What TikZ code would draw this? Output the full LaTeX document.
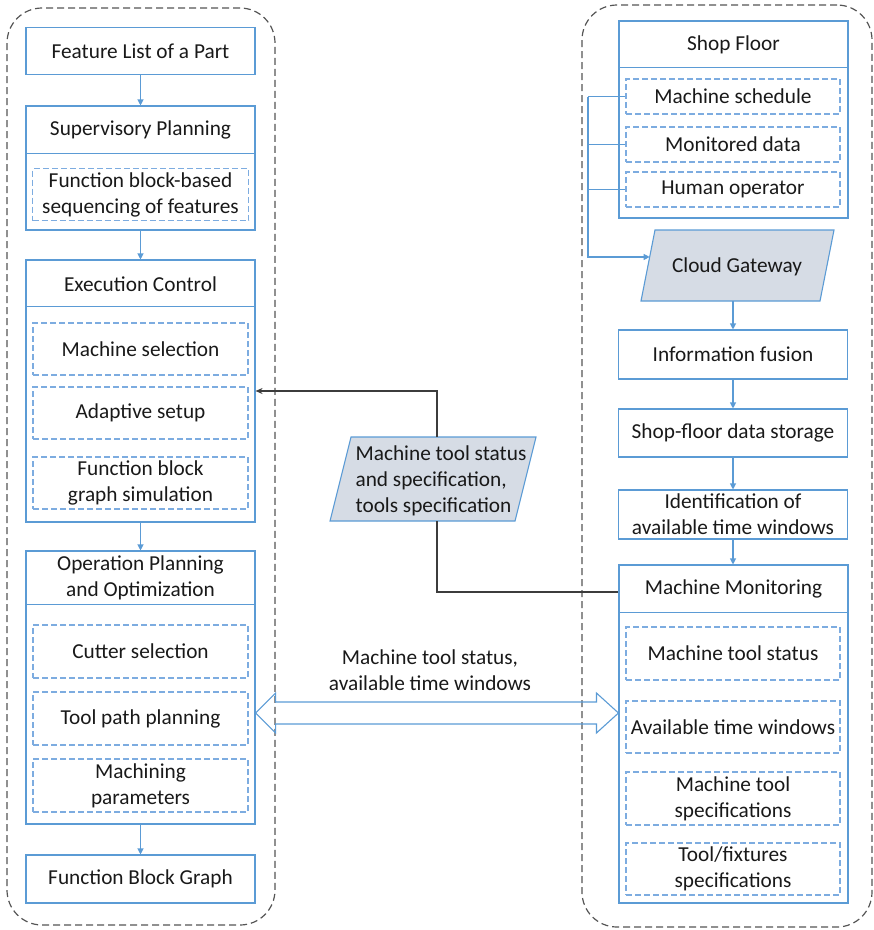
\documentclass[tikz,border=0pt]{standalone}
\usepackage{fontspec}
\setmainfont{Carlito}
\usetikzlibrary{arrows.meta,calc}

\definecolor{boxblue}{RGB}{91,155,213}
\definecolor{dashblue}{RGB}{125,172,224}
\definecolor{gatefill}{RGB}{214,220,229}
\definecolor{framegray}{RGB}{85,85,85}
\definecolor{linkgray}{RGB}{60,60,60}
\definecolor{inkc}{RGB}{25,25,25}

\tikzset{
  frame/.style={draw=framegray, line width=1.2pt, dash pattern=on 7pt off 4pt,
    rounded corners=35pt, inner sep=0pt},
  solidbox/.style={draw=boxblue, line width=1.1pt, inner sep=0pt, align=center},
  dashbox/.style={draw=dashblue, line width=1.1pt, dash pattern=on 6pt off 3pt,
    inner sep=0pt, align=center},
  txt/.style={inner sep=0pt, align=center},
  divider/.style={draw=boxblue, line width=1.1pt},
  flow/.style={draw=boxblue, line width=1.1pt, -{Triangle[length=6pt,width=6pt]}},
  bracket/.style={draw=boxblue, line width=1.1pt},
  link/.style={draw=linkgray, line width=1.1pt},
  para/.style={draw=boxblue, line width=1.1pt, fill=gatefill, line join=miter},
  hollow/.style={draw=boxblue, line width=1.1pt, line join=miter}
}

\begin{document}
\begin{tikzpicture}[x=1pt,y=-1pt,font=\fontsize{21.3}{26}\selectfont,text=inkc]
\useasboundingbox (0,0) rectangle (874,930);

% helper coordinates for fixed heights / columns
\coordinate (y592) at (0,592);
\coordinate (y713) at (0,713);
\coordinate (x437) at (437,0);
\coordinate (xbr) at (588,0);

% group frames
\node[frame, minimum width=268, minimum height=917] (leftgroup) at (141,466.5) {};
\node[frame, minimum width=290, minimum height=922] (rightgroup) at (727,466) {};

% ---------------- left column ----------------
\node[solidbox, minimum width=229, minimum height=47] (feat) at (140.5,51) {Feature List of a Part};

\node[solidbox, minimum width=229, minimum height=124] (sup) at (140.5,168) {};
\node[txt] (supt) at (140.5,130) {Supervisory Planning};
\draw[divider] ($(sup.north west)+(0,48)$) -- ($(sup.north east)+(0,48)$);
\node[dashbox, minimum width=216, minimum height=52] (sup1) at (140.5,194.5)
  {Function block-based\\sequencing of features};

\node[solidbox, minimum width=229, minimum height=262] (exe) at (140.5,391) {};
\node[txt] (exet) at (140.5,284) {Execution Control};
\draw[divider] ($(exe.north west)+(0,47)$) -- ($(exe.north east)+(0,47)$);
\node[dashbox, minimum width=215, minimum height=52] (exe1) at (140.5,349) {Machine selection};
\node[dashbox, minimum width=215, minimum height=52] (exe2) at (140.5,413) {Adaptive setup};
\node[dashbox, minimum width=215, minimum height=52] (exe3) at (140.5,483)
  {Function block\\graph simulation};

\node[solidbox, minimum width=229, minimum height=273] (op) at (140.5,687.5) {};
\node[txt] (opt) at (140.5,578) {Operation Planning\\and Optimization};
\draw[divider] ($(op.north west)+(0,54)$) -- ($(op.north east)+(0,54)$);
\node[dashbox, minimum width=215, minimum height=53] (op1) at (140.5,651.5) {Cutter selection};
\node[dashbox, minimum width=215, minimum height=53] (op2) at (140.5,718.5) {Tool path planning};
\node[dashbox, minimum width=215, minimum height=53] (op3) at (140.5,785.5)
  {Machining\\parameters};

\node[solidbox, minimum width=229, minimum height=48] (fbg) at (140.5,879) {Function Block Graph};

\draw[flow] (feat) -- (sup);
\draw[flow] (sup) -- (exe);
\draw[flow] (exe) -- (op);
\draw[flow] (op) -- (fbg);

% ---------------- right column ----------------
\node[solidbox, minimum width=229, minimum height=197] (shop) at (733.5,119.5) {};
\node[txt] (shopt) at (733.5,45) {Shop Floor};
\draw[divider] ($(shop.north west)+(0,47)$) -- ($(shop.north east)+(0,47)$);
\node[dashbox, minimum width=214, minimum height=35] (ms) at (733,96.5) {Machine schedule};
\node[dashbox, minimum width=214, minimum height=35] (md) at (733,144.5) {Monitored data};
\node[dashbox, minimum width=214, minimum height=35] (ho) at (733,189.5) {Human operator};

% cloud gateway (parallelogram)
\coordinate (cgTL) at (655,230);
\coordinate (cgTR) at (834,230);
\coordinate (cgBR) at (820,301);
\coordinate (cgBL) at (641,301);
\draw[para] (cgTL) -- (cgTR) -- (cgBR) -- (cgBL) -- cycle;
\node[txt] (cg) at (737,267) {Cloud Gateway};

\node[solidbox, minimum width=229, minimum height=49] (info) at (733,354.5) {Information fusion};
\node[solidbox, minimum width=229, minimum height=48] (store) at (733,433) {Shop-floor data storage};
\node[solidbox, minimum width=229, minimum height=49] (ident) at (733,514.5)
  {Identification of\\available time windows};

\node[solidbox, minimum width=229, minimum height=338] (mm) at (733.5,734) {};
\node[txt] (mmt) at (733.5,589) {Machine Monitoring};
\draw[divider] ($(mm.north west)+(0,48)$) -- ($(mm.north east)+(0,48)$);
\node[dashbox, minimum width=214, minimum height=53] (mm1) at (733,653.5) {Machine tool status};
\node[dashbox, minimum width=214, minimum height=52] (mm2) at (733,727) {Available time windows};
\node[dashbox, minimum width=214, minimum height=53] (mm3) at (733,798.5)
  {Machine tool\\specifications};
\node[dashbox, minimum width=214, minimum height=52] (mm4) at (733,869)
  {Tool/fixtures\\specifications};

% shop-floor sources collected into the gateway
\coordinate (cgin) at ($(cgBL)!0.62!(cgTL)$);
\draw[bracket] (ms.west) -- (ms.west -| xbr);
\draw[bracket] (md.west) -- (md.west -| xbr);
\draw[bracket] (ho.west) -- (ho.west -| xbr);
\draw[flow] (ms.west -| xbr) |- (cgin);

\draw[flow] (info.north |- cgBL) -- (info.north);
\draw[flow] (info) -- (store);
\draw[flow] (store) -- (ident);
\draw[flow] (ident.south) -- (ident.south |- mm.north);

% ---------------- middle ----------------
\coordinate (mTL) at (351,437);
\coordinate (mTR) at (536,437);
\coordinate (mBR) at (515,521);
\coordinate (mBL) at (330,521);
\draw[para] (mTL) -- (mTR) -- (mBR) -- (mBL) -- cycle;
\node[txt, align=left] (mts) at (441,481)
  {Machine tool status\\and specification,\\tools specification};

\draw[link, -{Stealth[length=7pt,width=6pt]}] (mTL -| x437) |- (exe.east);
\draw[link] (mBL -| x437) |- (mm.west |- y592);

% two-way data exchange
\coordinate (dal) at (op.east |- y713);
\coordinate (dar) at (mm.west |- y713);
\draw[hollow] (dal) -- ++(20,-20) -- ++(0,9) -- ($(dar)+(-22,-11)$) -- ++(0,-9)
  -- (dar) -- ++(-22,20) -- ++(0,-9) -- ($(dal)+(20,11)$) -- ++(0,9) -- cycle;
\node[txt] (dalabel) at (430,670) {Machine tool status,\\available time windows};

\end{tikzpicture}
\end{document}
